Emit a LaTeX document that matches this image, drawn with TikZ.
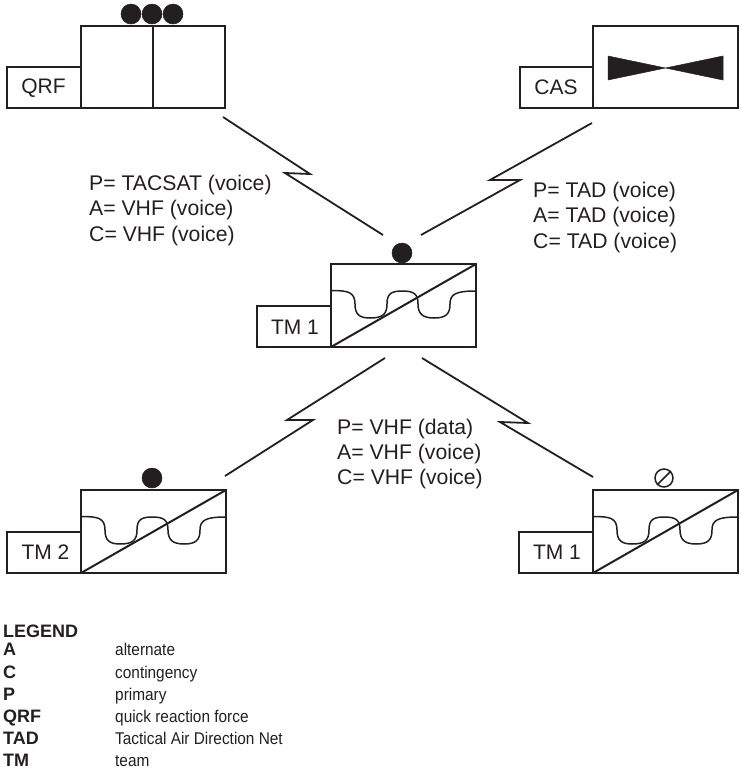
\documentclass[tikz,border=0pt]{standalone}
\usepackage{fontspec}
\setmainfont{Liberation Sans}
\newfontfamily\legfont[FakeStretch=0.905]{Liberation Sans}
\definecolor{ink}{HTML}{231F20}
\tikzset{
  x=1pt,y=-1pt,
  box/.style={draw=ink,line width=2pt,fill=white},
  rule/.style={draw=ink,line width=2pt},
  wire/.style={draw=ink,line width=1.8pt,line join=miter,miter limit=20},
  squig/.style={draw=ink,line width=1.5pt},
  lab/.style={font=\fontsize{21.2}{25.4}\selectfont,text=ink,align=left,anchor=north west,inner sep=0pt},
  boxlab/.style={font=\fontsize{21}{24}\selectfont,text=ink,inner sep=0pt},
  dot/.style={circle,draw=ink,line width=.5pt,fill=ink,minimum size=20pt,inner sep=0pt},
  legk/.style={font=\bfseries\fontsize{18}{20}\selectfont,text=ink,anchor=base west,inner sep=0pt},
  legv/.style={font=\legfont\fontsize{17}{20}\selectfont,text=ink,anchor=base west,inner sep=0pt},
  pics/unit/.style={code={
    \draw[box] (0,0) rectangle (145,83);
    \draw[box] (-74,42) rectangle (0,83);
    \draw[squig] (0,26.5) .. controls (17,26.5) and (24,28) .. (24,40)
      .. controls (24,50) and (28,54) .. (39,54)
      .. controls (52,54) and (56,50) .. (56,40)
      .. controls (56,30) and (60,27) .. (71,27)
      .. controls (83,27) and (87,30) .. (87,40)
      .. controls (87,50) and (92,54) .. (103,54)
      .. controls (115,54) and (119,50) .. (119,40)
      .. controls (119,30) and (125,27) .. (145,27);
    \draw[rule] (0,83) -- (145,0);
  }}
}
\begin{document}
\begin{tikzpicture}
\useasboundingbox (0,0) rectangle (740,769);
% QRF
\draw[box] (81,26) rectangle (225,108);
\draw[box] (7,67) rectangle (81,108);
\draw[rule] (152.5,26) -- (152.5,108);
\node[boxlab] (qrf) at (43.5,88.5) {QRF};
\node[dot] (q1) at (131,14) {};
\node[dot] (q2) at (152,14) {};
\node[dot] (q3) at (173,14) {};
% CAS
\draw[box] (593,26) rectangle (738,108);
\draw[box] (520,67) rectangle (593,108);
\node[boxlab] (cas) at (556,87) {CAS};
\fill[ink,draw=ink,line width=.5pt] (608,56) -- (723,80) -- (723,56) -- (608,80) -- cycle;
% TM centre
\pic at (331,264) {unit};
\node[boxlab] (tmc) at (295,327) {TM 1};
\node[dot] (dc) at (402,253) {};
% TM left
\pic at (81,490) {unit};
\node[boxlab] (tml) at (45.5,552) {TM 2};
\node[dot] (dl) at (152,478) {};
% TM right
\pic at (593,490) {unit};
\node[boxlab] (tmr) at (557,552) {TM 1};
\node[circle,draw=ink,line width=1.5pt,minimum size=18pt,inner sep=0pt] (dr) at (664,478) {};
\draw[squig] (dr.south west) -- (dr.north east);
% links
\coordinate (a1) at (223,117); \coordinate (a2) at (383,235);
\coordinate (b1) at (592,123); \coordinate (b2) at (421,235);
\coordinate (c1) at (385,358); \coordinate (c2) at (225,476);
\coordinate (d1) at (422,358); \coordinate (d2) at (593,477);
\draw[wire] (a1) -- (310,174) -- (285,173) -- (a2);
\draw[wire] (b1) -- (490,180) -- (520,180) -- (b2);
\draw[wire] (c1) -- (287,420) -- (313,420) -- (c2);
\draw[wire] (d1) -- (528,423) -- (500,422) -- (d2);
% labels
\node[lab] (t1) at (89,175) {P= TACSAT (voice)\\A= VHF (voice)\\C= VHF (voice)};
\node[lab] (t2) at (533,182) {P= TAD (voice)\\A= TAD (voice)\\C= TAD (voice)};
\node[lab] (t3) at (337,418.5) {P= VHF (data)\\A= VHF (voice)\\C= VHF (voice)};
% legend
\node[legk] (lt) at (3,637) {LEGEND};
\node[legk] (k1) at (3,655.5) {A}; \node[legv] (v1) at (115,655.5) {alternate};
\node[legk] (k2) at (3,678) {C}; \node[legv] (v2) at (115,678) {contingency};
\node[legk] (k3) at (3,700) {P}; \node[legv] (v3) at (115,700) {primary};
\node[legk] (k4) at (3,722) {QRF}; \node[legv] (v4) at (115,722) {quick reaction force};
\node[legk] (k5) at (3,744.5) {TAD}; \node[legv] (v5) at (115,744.5) {Tactical Air Direction Net};
\node[legk] (k6) at (3,766) {TM}; \node[legv] (v6) at (115,766) {team};
\end{tikzpicture}
\end{document}
